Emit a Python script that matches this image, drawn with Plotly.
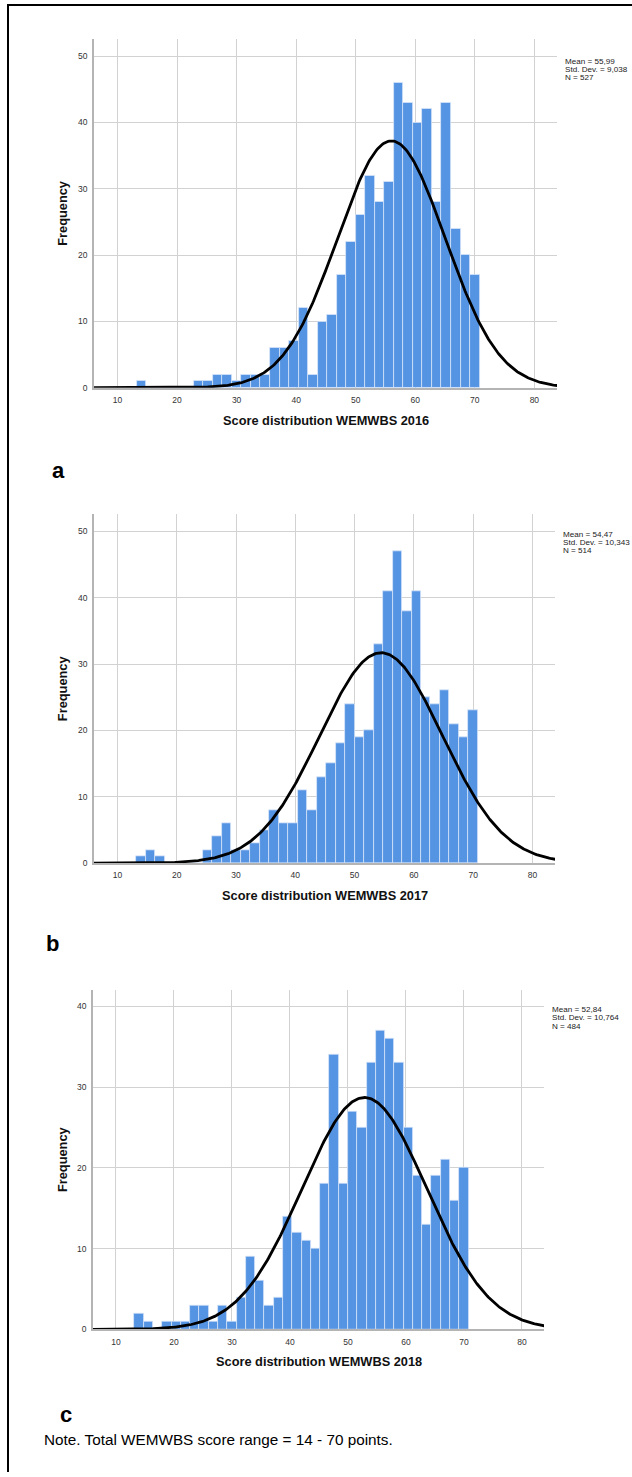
import numpy as np
import plotly.graph_objects as go

W, H = 632, 1477

bin_centers = [14.0, 15.6, 17.2, 18.8, 20.4, 22.0, 23.6, 25.2, 26.8, 28.4, 30.0, 31.6,
               33.2, 34.8, 36.4, 38.0, 39.6, 41.2, 42.8, 44.4, 46.0, 47.6, 49.2, 50.8,
               52.4, 54.0, 55.6, 57.2, 58.8, 60.4, 62.0, 63.6, 65.2, 66.8, 68.4, 70.0]
bin_width = 1.6

counts_2016 = [1, 0, 0, 0, 0, 0, 1, 1, 2, 2, 1, 2, 2, 2, 6, 6, 7, 12, 2, 10, 11, 17, 22, 26,
               32, 28, 31, 46, 43, 40, 42, 28, 43, 24, 20, 17]
counts_2017 = [1, 2, 1, 0, 0, 0, 0, 2, 4, 6, 2, 2, 3, 5, 8, 6, 6, 11, 8, 13, 15, 18, 24, 19,
               20, 33, 41, 47, 38, 41, 25, 24, 26, 21, 19, 23]
counts_2018 = [2, 1, 0, 1, 1, 1, 3, 3, 1, 3, 1, 4, 9, 6, 3, 4, 14, 12, 11, 10, 18, 34, 18, 27,
               25, 33, 37, 36, 33, 25, 19, 13, 19, 21, 16, 20]

years = ["2016", "2017", "2018"]
means = [55.99, 54.47, 52.84]
sds = [9.038, 10.343, 10.764]
ns = [527, 514, 484]
mean_labels = ["55,99", "54,47", "52,84"]
sd_labels = ["9,038", "10,343", "10,764"]
x_ticks = [10, 20, 30, 40, 50, 60, 70, 80]
y_ticks = [[0, 10, 20, 30, 40, 50], [0, 10, 20, 30, 40, 50], [0, 10, 20, 30, 40]]
y_max = [52.6, 52.6, 42.05]
panel_letters = ["a", "b", "c"]

# pixel boxes of plot areas: (left, right, top, bottom)
boxes = [(94, 557, 39, 389), (94, 555, 516, 866), (93, 544, 993, 1334)]
letter_pos = [(58, 472), (52, 947), (66, 1419)]
stat_pos = [(562.5, 61.5), (561, 536.3), (550, 1013.3)]

all_counts = [counts_2016, counts_2017, counts_2018]

fig = go.Figure()

def px_x(v):
    return v / W

def px_y(v):
    return 1 - v / H

annotations = []
for i in range(3):
    xa = "x" if i == 0 else f"x{i+1}"
    ya = "y" if i == 0 else f"y{i+1}"
    fig.add_trace(go.Bar(
        x=bin_centers, y=all_counts[i], width=bin_width,
        marker=dict(color="#5594e3", line=dict(color="rgba(220,232,250,0.9)", width=0.8)),
        xaxis=xa, yaxis=ya, showlegend=False, hoverinfo="x+y"))
    xs = np.linspace(6.0, 84.0, 400)
    ys = ns[i] * bin_width / (sds[i] * np.sqrt(2 * np.pi)) * np.exp(-0.5 * ((xs - means[i]) / sds[i]) ** 2)
    fig.add_trace(go.Scatter(
        x=xs, y=ys, mode="lines", line=dict(color="black", width=2.8),
        xaxis=xa, yaxis=ya, showlegend=False, hoverinfo="skip"))

    l, r, t, b = boxes[i]
    key = "" if i == 0 else str(i + 1)
    fig.update_layout(**{
        f"xaxis{key}": dict(
            domain=[px_x(l), px_x(r)], range=[6.05, 83.8], anchor=ya,
            tickvals=x_ticks, showgrid=True, gridcolor="#d2d2d2", gridwidth=1,
            showline=True, linecolor="#b4b4b4", linewidth=2, zeroline=False,
            ticks="outside", ticklen=3, tickcolor="rgba(0,0,0,0)",
            tickfont=dict(family="Liberation Sans, Arial, sans-serif", size=8.5, color="#333333"),
            fixedrange=True),
        f"yaxis{key}": dict(
            domain=[px_y(b), px_y(t)], range=[0, y_max[i]], anchor=xa,
            tickvals=y_ticks[i], showgrid=True, gridcolor="#d2d2d2", gridwidth=1,
            showline=True, linecolor="#b4b4b4", linewidth=1.5, zeroline=False,
            ticks="outside", ticklen=3, tickcolor="rgba(0,0,0,0)",
            tickfont=dict(family="Liberation Sans, Arial, sans-serif", size=8.5, color="#333333"),
            fixedrange=True),
    })

    # axis titles
    annotations.append(dict(
        x=px_x((l + r) / 2), y=px_y(b + 32.5), xref="paper", yref="paper",
        text="<b>Score distribution WEMWBS " + years[i] + "</b>", showarrow=False,
        font=dict(family="Liberation Sans, Arial, sans-serif", size=12.8, color="#111111"),
        xanchor="center", yanchor="middle"))
    annotations.append(dict(
        x=px_x(62.5), y=px_y((t + b) / 2), xref="paper", yref="paper",
        text="<b>Frequency</b>", showarrow=False, textangle=-90,
        font=dict(family="Liberation Sans, Arial, sans-serif", size=12.8, color="#111111"),
        xanchor="center", yanchor="middle"))
    # stats box
    sx, sy = stat_pos[i]
    lines = ["Mean = " + mean_labels[i], "Std. Dev. = " + sd_labels[i], "N = " + str(ns[i])]
    for k, txt in enumerate(lines):
        annotations.append(dict(
            x=px_x(sx), y=px_y(sy + 8.1 * k), xref="paper", yref="paper",
            text=txt, showarrow=False, xanchor="left", yanchor="middle",
            font=dict(family="Liberation Sans, Arial, sans-serif", size=8.1, color="#222222")))
    # panel letter
    lx, ly = letter_pos[i]
    annotations.append(dict(
        x=px_x(lx), y=px_y(ly), xref="paper", yref="paper",
        text="<b>" + panel_letters[i] + "</b>", showarrow=False,
        xanchor="center", yanchor="middle",
        font=dict(family="Liberation Sans, Arial, sans-serif", size=22, color="black")))

annotations.append(dict(
    x=px_x(42), y=px_y(1444), xref="paper", yref="paper",
    text="Note. Total WEMWBS score range = 14 - 70 points.", showarrow=False,
    xanchor="left", yanchor="middle",
    font=dict(family="Liberation Sans, Arial, sans-serif", size=15.3, color="black")))

shapes = [
    dict(type="line", xref="paper", yref="paper", x0=px_x(7), x1=1.0, y0=px_y(5), y1=px_y(5),
         line=dict(color="black", width=2)),
    dict(type="line", xref="paper", yref="paper", x0=px_x(8), x1=px_x(8), y0=px_y(4), y1=0.0,
         line=dict(color="black", width=2)),
]

fig.update_layout(
    width=W, height=H, margin=dict(l=0, r=0, t=0, b=0),
    paper_bgcolor="white", plot_bgcolor="white",
    bargap=0, annotations=annotations, shapes=shapes, showlegend=False,
)

fig.write_html("out.html", config={"displayModeBar": False},
               post_script="document.body.style.margin='0px';document.body.style.overflow='hidden';")
